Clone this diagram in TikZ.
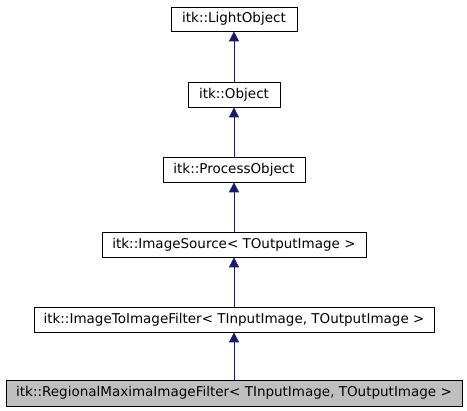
\documentclass[tikz,border=0pt]{standalone}
\usepackage{fontspec}
\setmainfont{DejaVu Sans}
\usetikzlibrary{arrows.meta}
\definecolor{edgeblue}{HTML}{191970}
\definecolor{focusgray}{HTML}{BFBFBF}
\begin{document}
\begin{tikzpicture}[x=1pt,y=-1pt,
  cls/.style={draw=black,line width=0.8pt,fill=white,inner sep=0pt,font=\fontsize{13.5}{15}\selectfont},
  inh/.style={draw=edgeblue,line width=0.8pt,-{Triangle[length=10pt,width=10pt,fill=edgeblue]}}]
\useasboundingbox (0,0) rectangle (467,411);
\node[cls,minimum width=126pt,minimum height=24pt] (lo) at (234,19) {itk::LightObject};
\node[cls,minimum width=92pt,minimum height=25pt] (ob) at (234,94.5) {itk::Object};
\node[cls,minimum width=142pt,minimum height=25pt] (po) at (234,169.5) {itk::ProcessObject};
\node[cls,minimum width=264pt,minimum height=25pt] (is) at (234,244.5) {itk::ImageSource< TOutputImage >};
\node[cls,minimum width=400pt,minimum height=25pt] (itif) at (234,319.5) {itk::ImageToImageFilter< TInputImage, TOutputImage >};
\node[cls,fill=focusgray,minimum width=456pt,minimum height=26pt] (rm) at (234,393) {itk::RegionalMaximaImageFilter< TInputImage, TOutputImage >};
\draw[inh] (ob) -- (lo);
\draw[inh] (po) -- (ob);
\draw[inh] (is) -- (po);
\draw[inh] (itif) -- (is);
\draw[inh] (rm) -- (itif);
\end{tikzpicture}
\end{document}
